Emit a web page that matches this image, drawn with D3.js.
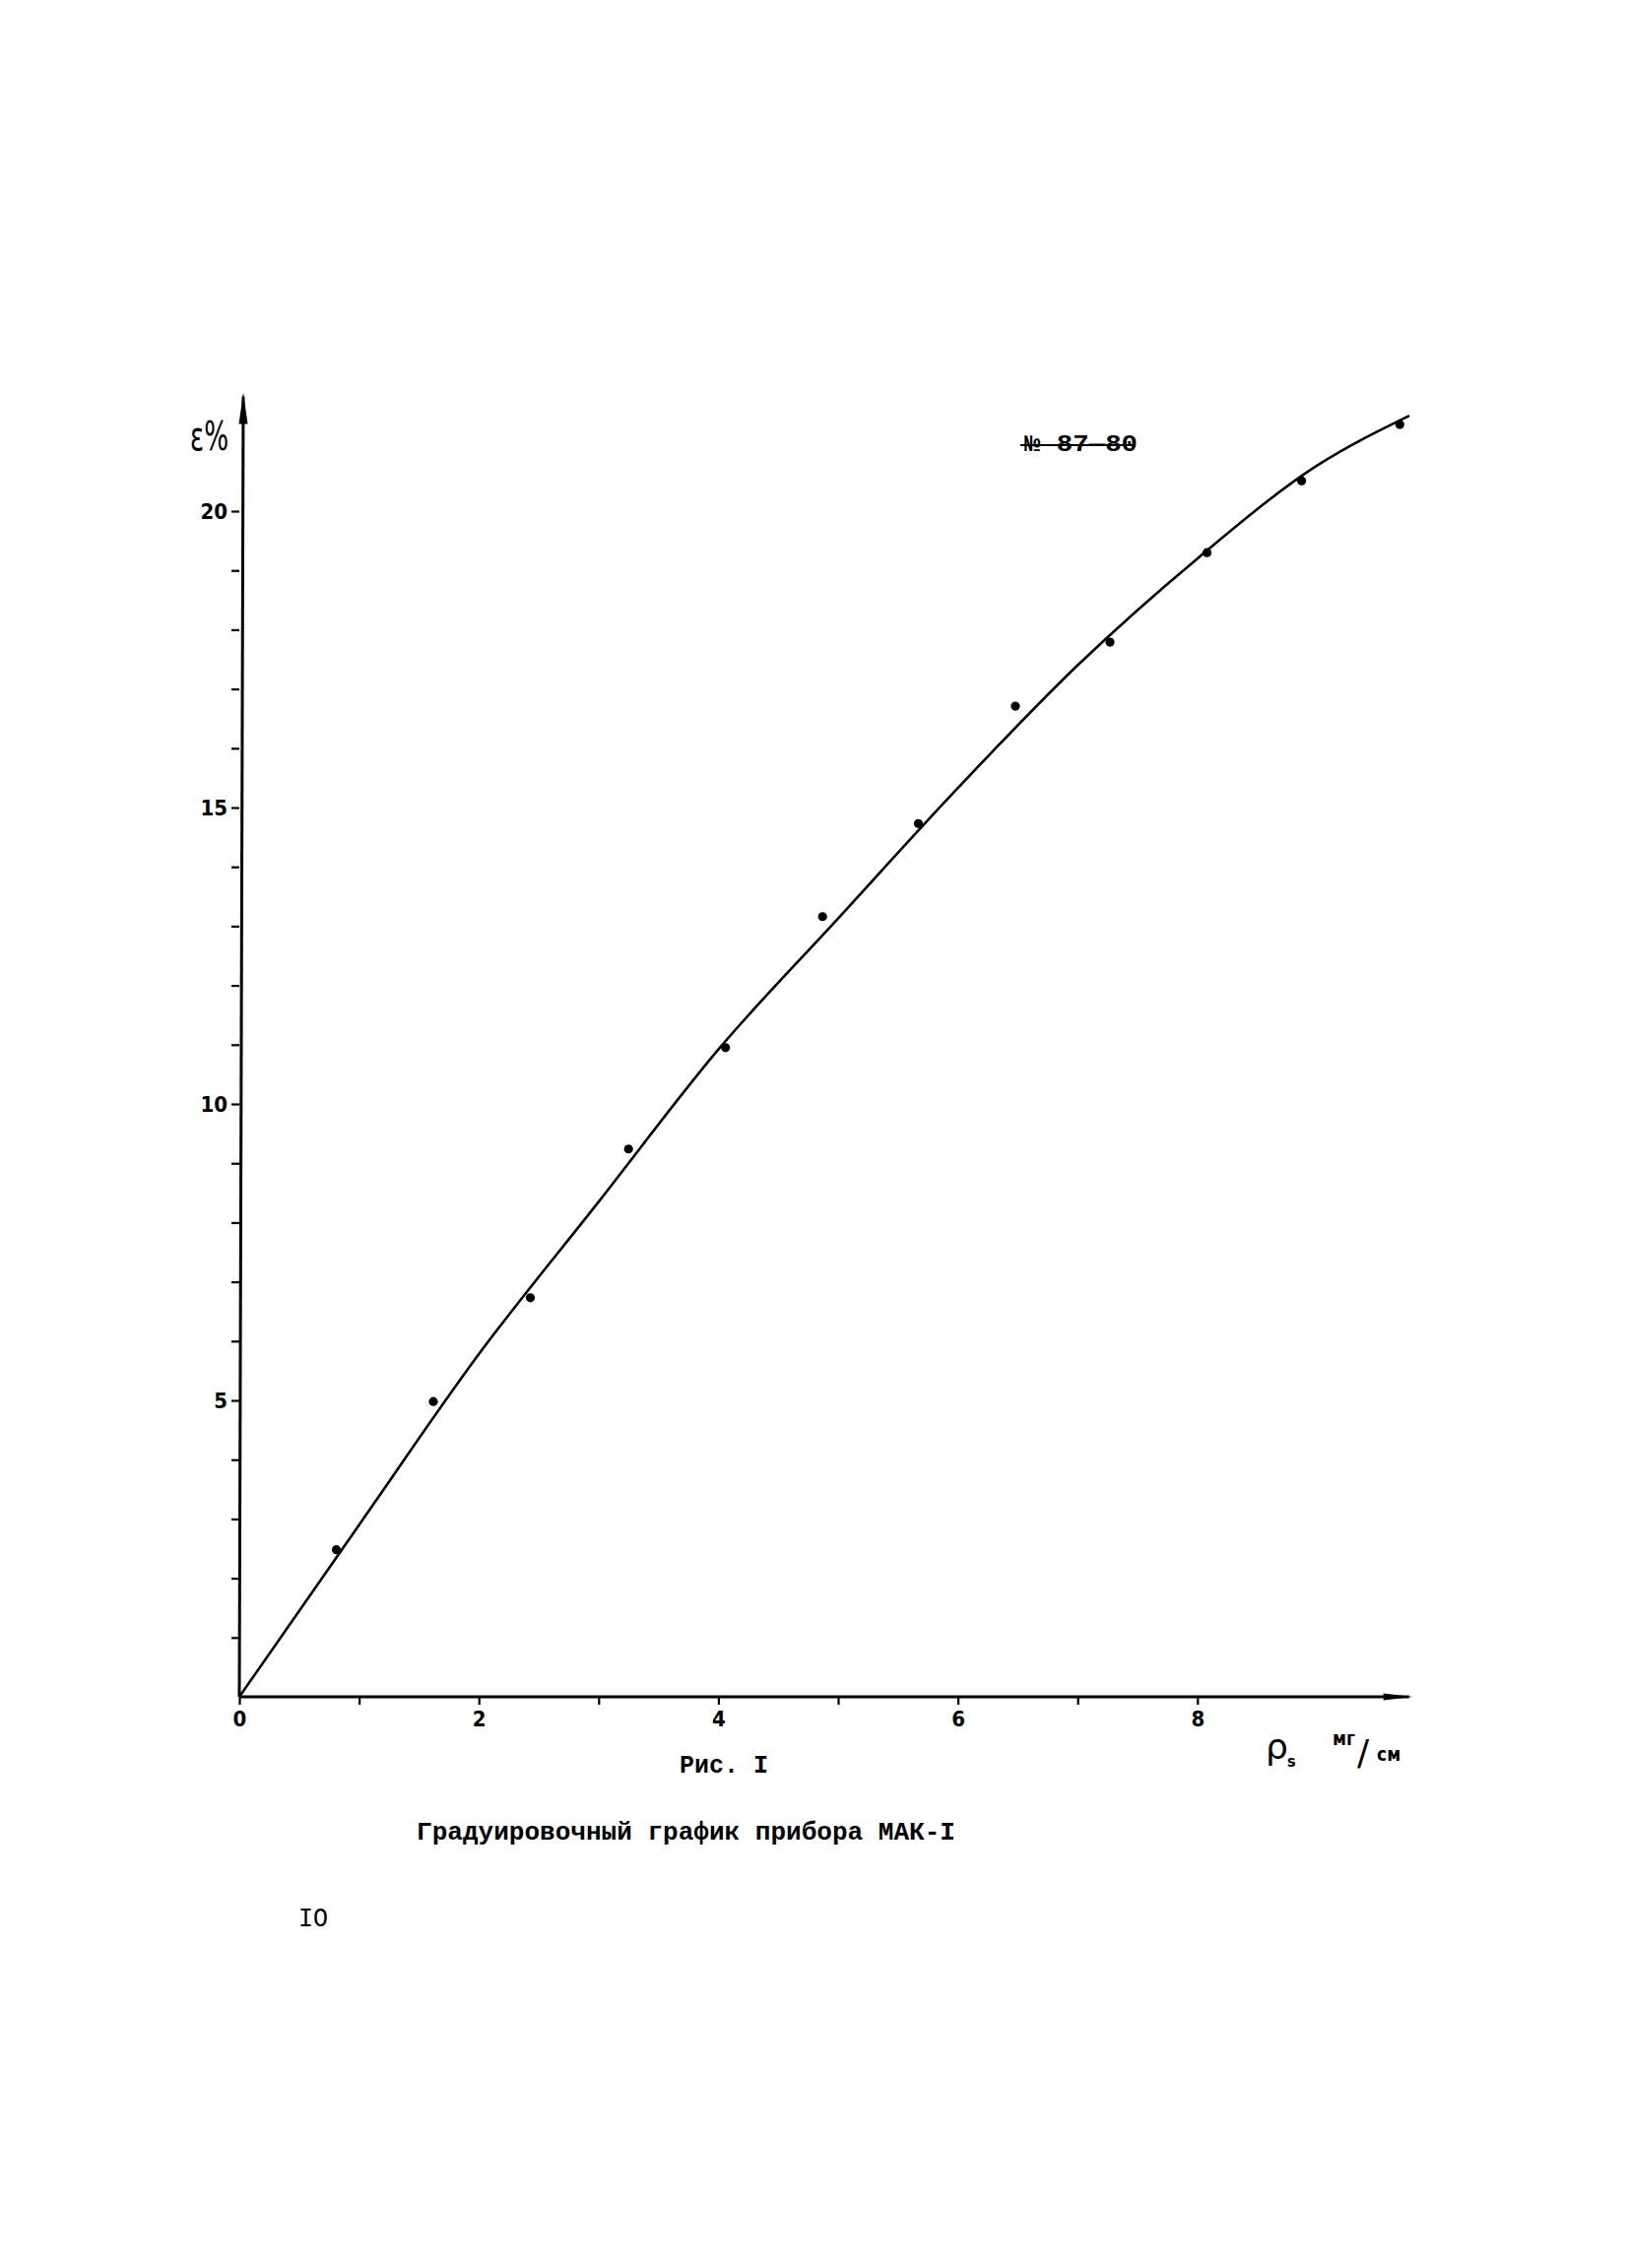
<!DOCTYPE html>
<html><head><meta charset="utf-8">
<script src="https://cdn.jsdelivr.net/npm/d3@7"></script>
<style>body{margin:0;background:#fff}</style>
</head><body>
<svg id="c" width="1653" height="2303"></svg>
<script>
// measured points (ρs, мг/см  ->  ε, %)
const pointX = [0.81, 1.62, 2.43, 3.25, 4.06, 4.87, 5.67, 6.48, 7.27, 8.08, 8.87, 9.69];
const pointY = [2.48, 4.98, 6.73, 9.24, 10.95, 13.16, 14.73, 16.71, 17.79, 19.30, 20.51, 21.46];
// calibration curve
const curveX = [0, 1, 2, 3, 4, 5, 6, 7, 8, 9, 9.77];
const curveY = [0, 2.9, 5.78, 8.35, 10.92, 13.13, 15.33, 17.4, 19.2, 20.77, 21.61];
// ticks
const xTickValues = [0, 1, 2, 3, 4, 5, 6, 7, 8];
const xTickLabels = {0: "0", 2: "2", 4: "4", 6: "6", 8: "8"};
const yTickValues = [1,2,3,4,5,6,7,8,9,10,11,12,13,14,15,16,17,18,19,20];
const yTickLabels = {5: "5", 10: "10", 15: "15", 20: "20"};

const svg = d3.select("#c");
svg.append("rect").attr("width",1653).attr("height",2303).attr("fill","#fff");

const x = d3.scaleLinear().domain([0, 9.8]).range([243, 243 + 9.8*121.6]);
const y = d3.scaleLinear().domain([0, 22]).range([1723, 1723 - 22*60.2]);

const tickFont = "'DejaVu Sans Condensed', 'DejaVu Sans', sans-serif";

// X axis
const gx = svg.append("g").attr("transform", `translate(0,${y(0)})`)
  .call(d3.axisBottom(x).tickValues(xTickValues).tickSize(8).tickPadding(6)
    .tickFormat(d => xTickLabels[d] || ""));
gx.select(".domain").remove();
gx.selectAll(".tick line").attr("stroke","#000").attr("stroke-width",2.2);
gx.selectAll(".tick text").attr("font-family", tickFont).attr("font-weight","bold")
  .attr("font-size", 22).attr("fill","#000");

// Y axis
const gy = svg.append("g").attr("transform", `translate(${x(0)},0)`)
  .call(d3.axisLeft(y).tickValues(yTickValues).tickSize(8).tickPadding(4)
    .tickFormat(d => yTickLabels[d] || ""));
gy.select(".domain").remove();
gy.selectAll(".tick line").attr("stroke","#000").attr("stroke-width",2.2);
gy.selectAll(".tick text").attr("font-family", tickFont).attr("font-weight","bold")
  .attr("font-size", 22).attr("fill","#000");

// axis lines with arrows
const xEnd = x(9.8), yTop = y(22);
svg.append("line").attr("x1", x(0)).attr("y1", y(0)).attr("x2", xEnd - 4).attr("y2", y(0))
  .attr("stroke","#000").attr("stroke-width",3);
svg.append("path").attr("d", `M${xEnd},${y(0)} L${xEnd-30},${y(0)-3.5} L${xEnd-30},${y(0)+3.5} Z`).attr("fill","#000");
svg.append("line").attr("x1", x(0)).attr("y1", y(0)).attr("x2", x(0)+4).attr("y2", yTop + 4)
  .attr("stroke","#000").attr("stroke-width",3);
svg.append("path").attr("d", `M${x(0)+4},${yTop} L${x(0)-0.5},${yTop+32} L${x(0)+8.5},${yTop+32} Z`).attr("fill","#000");

// curve
const line = d3.line().x(d => x(d[0])).y(d => y(d[1])).curve(d3.curveMonotoneX);
svg.append("path").datum(curveX.map((v,i) => [v, curveY[i]]))
  .attr("d", line).attr("fill","none").attr("stroke","#000").attr("stroke-width",2.6)
  .attr("stroke-linejoin","round");

// points
svg.selectAll("circle.pt").data(pointX.map((v,i) => [v, pointY[i]])).enter()
  .append("circle").attr("class","pt").attr("cx", d => x(d[0])).attr("cy", d => y(d[1]))
  .attr("r", 4.6).attr("fill","#000");

// y axis label ε%
svg.append("text").attr("x", 193).attr("y", 457).attr("fill","#000")
  .attr("font-family","'DejaVu Sans', sans-serif").attr("font-size", 40)
  .attr("textLength", 39).attr("lengthAdjust","spacingAndGlyphs").text("ε%");

// x axis label ρs мг/см
svg.append("text").attr("x", 1285).attr("y", 1786).attr("font-family","'DejaVu Sans', sans-serif")
  .attr("font-size", 36).attr("fill","#000").text("ρ");
svg.append("text").attr("x", 1307).attr("y", 1794).attr("font-family", tickFont).attr("font-weight","bold")
  .attr("font-size", 16).attr("fill","#000").text("s");
svg.append("text").attr("x", 1353).attr("y", 1772).attr("font-family", tickFont).attr("font-weight","bold")
  .attr("font-size", 19).attr("fill","#000").text("мг");
svg.append("text").attr("x", 1378).attr("y", 1792).attr("font-family","'DejaVu Sans', sans-serif")
  .attr("font-size", 36).attr("fill","#000").text("/");
svg.append("text").attr("x", 1398).attr("y", 1788).attr("font-family", tickFont).attr("font-weight","bold")
  .attr("font-size", 19).attr("fill","#000").text("см");

// stamp number
svg.append("text").attr("x", 1040).attr("y", 458).attr("font-family","'Liberation Mono', monospace")
  .attr("font-weight","bold").attr("font-size", 24).attr("textLength", 115).attr("lengthAdjust","spacingAndGlyphs")
  .attr("fill","#000").text("№ 87—80");
svg.append("line").attr("x1",1036).attr("x2",1150).attr("y1",452).attr("y2",452)
  .attr("stroke","#000").attr("stroke-width",2);

// captions
const capFont = "'Liberation Mono', 'Courier New', monospace";
svg.append("text").attr("x", 690).attr("y", 1800).attr("font-family", capFont).attr("font-weight","bold")
  .attr("font-size", 26).attr("textLength", 90).attr("lengthAdjust","spacingAndGlyphs")
  .attr("fill","#000").text("Рис. I");
svg.append("text").attr("x", 423).attr("y", 1868).attr("font-family", capFont).attr("font-weight","bold")
  .attr("font-size", 26).attr("textLength", 547).attr("lengthAdjust","spacingAndGlyphs")
  .attr("fill","#000").text("Градуировочный график прибора МАК-I");
svg.append("text").attr("x", 303).attr("y", 1956).attr("font-family", capFont)
  .attr("font-size", 28).attr("textLength", 30).attr("lengthAdjust","spacingAndGlyphs")
  .attr("fill","#000").text("IO");
</script>
</body></html>
